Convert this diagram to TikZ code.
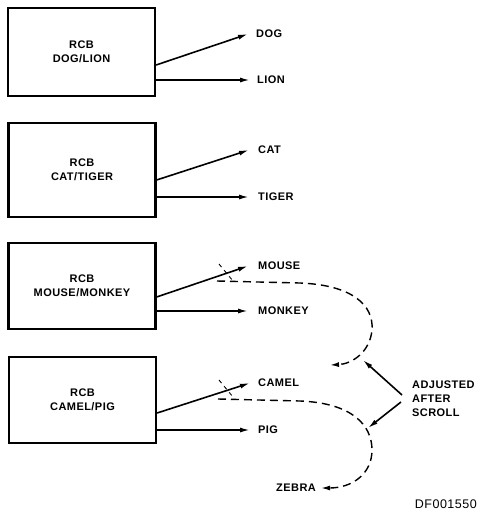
\documentclass[tikz,border=0pt]{standalone}
\usepackage{fontspec}
\setmainfont{Liberation Sans}[LetterSpace=4]
\usetikzlibrary{arrows.meta,calc}
\tikzset{
  rcbbox/.style={draw, line width=2.2pt, minimum width=147pt, align=center, inner sep=0pt,
     font=\fontsize{11}{14}\selectfont\bfseries},
  lbl/.style={anchor=west, inner sep=0pt, font=\fontsize{11}{12}\selectfont\bfseries},
  conn/.style={line width=1.6pt, -{Latex[length=10pt,width=5pt]}},
  scroll/.style={line width=1.4pt, dash pattern=on 8pt off 5pt, -{Latex[length=9pt,width=5pt]}},
  tick/.style={line width=0.9pt, dash pattern=on 4pt off 4pt},
}
\begin{document}
\begin{tikzpicture}[x=1pt,y=-1pt]
\useasboundingbox (0,0) rectangle (479,515);
% boxes
\node[rcbbox, minimum height=88pt] (b1) at (81.5,52) {RCB\\DOG/LION};
\node[rcbbox, minimum height=94pt] (b2) at (82,170) {RCB\\CAT/TIGER};
\node[rcbbox, minimum height=86pt] (b3) at (82,286) {RCB\\MOUSE/MONKEY};
\node[rcbbox, minimum height=86pt] (b4) at (82.5,400) {RCB\\CAMEL/PIG};
% labels
\node[lbl] (dog) at (256,34) {DOG};
\node[lbl] (lion) at (257,80) {LION};
\node[lbl] (cat) at (258,150) {CAT};
\node[lbl] (tiger) at (258,197) {TIGER};
\node[lbl] (mouse) at (258,266) {MOUSE};
\node[lbl] (monkey) at (258,311) {MONKEY};
\node[lbl] (camel) at (258,383) {CAMEL};
\node[lbl] (pig) at (258,430) {PIG};
\node[lbl] (zebra) at (276,488) {ZEBRA};
\node[lbl, align=left, font=\fontsize{11}{14}\selectfont\bfseries] (adj) at (412,399) {ADJUSTED\\AFTER\\SCROLL};
\node[anchor=east, inner sep=0pt, font=\fontsize{12.5}{14}\selectfont] (df) at (477,504) {DF001550};
% connectors
\draw[conn] ([yshift=-13pt]b1.east) -- ([xshift=-8pt]dog.west);
\draw[conn] ([yshift=-28pt]b1.east) -- ([xshift=-7pt]lion.west);
\draw[conn] ([yshift=-10pt]b2.east) -- ([xshift=-9pt]cat.west);
\draw[conn] ([yshift=-27pt]b2.east) -- ([xshift=-9pt]tiger.west);
\draw[conn] ([yshift=-11pt]b3.east) -- ([xshift=-10pt]mouse.west);
\draw[conn] ([yshift=-25pt]b3.east) -- ([xshift=-10pt]monkey.west);
\draw[conn] ([yshift=-13pt]b4.east) -- ([xshift=-8pt]camel.west);
\draw[conn] ([yshift=-30pt]b4.east) -- ([xshift=-8pt]pig.west);
% scroll curves
\coordinate (s1) at (217,281);
\coordinate (e1) at (330,365);
\coordinate (s2) at (218,399);
\draw[scroll] (s1) -- (300,283) .. controls (352,285) and (374,305) .. (372,330)
   .. controls (370,352) and (352,364) .. (e1);
\draw[scroll] (s2) -- (300,401) .. controls (352,403) and (372,425) .. (372,450)
   .. controls (372,474) and (352,488) .. ([xshift=5pt]zebra.east);
\draw[tick] (219,264) -- (233,281);
\draw[tick] (219,380) -- (233,397);
% adjusted arrows
\coordinate (a1) at (363,360);
\coordinate (a2) at (368,428);
\draw[conn] ([xshift=-10pt,yshift=4pt]adj.west) -- (a1);
\draw[conn] ([xshift=-11pt,yshift=-3pt]adj.west) -- (a2);
\end{tikzpicture}
\end{document}
